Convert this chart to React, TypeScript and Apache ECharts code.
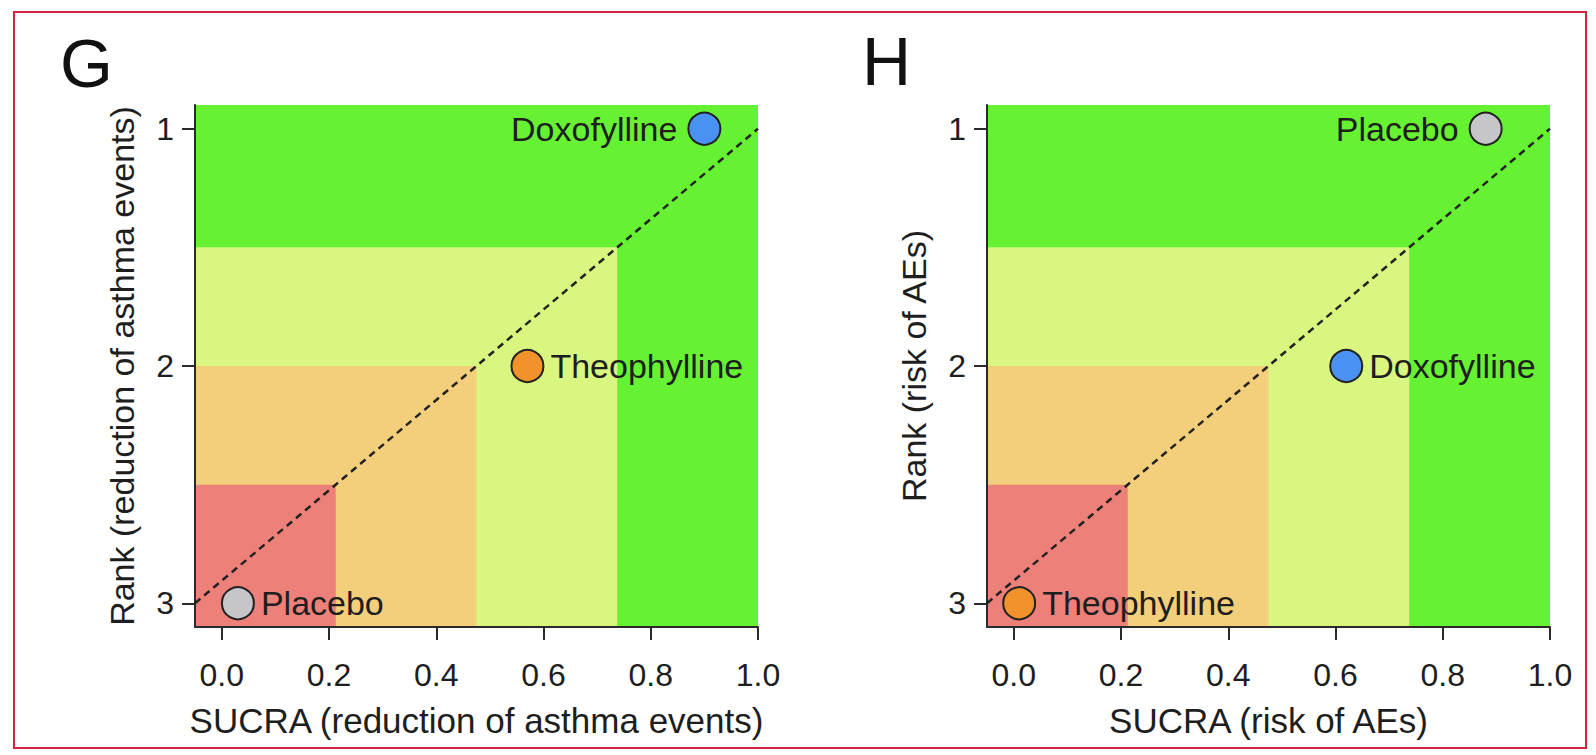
import React, { useEffect, useRef } from "react";
import * as echarts from "echarts";

// ---- data ----
const xTicks = [0, 0.2, 0.4, 0.6, 0.8, 1.0];
const yTicks = [1, 2, 3];
const xRange = [-0.05, 1.0];
const yRange = [0.9, 3.1];
// zone edges (x: right edge of red/orange/yellow zone; y: upper rank edge)
const zoneXBreaks = [0.2125, 0.475, 0.7375];
const zoneYBreaks = [2.5, 2.0, 1.5];
const zoneColors = ["#EE807A", "#F3CF7B", "#D8F680", "#66F233"];
const diagonal = [
  [-0.05, 3],
  [1.0, 1],
];

const treatmentsG = ["Doxofylline", "Theophylline", "Placebo"];
const sucraG = [0.9, 0.57, 0.03];
const rankG = [1, 2, 3];
const labelSideG = ["left", "right", "right"];

const treatmentsH = ["Placebo", "Doxofylline", "Theophylline"];
const sucraH = [0.88, 0.62, 0.01];
const rankH = [1, 2, 3];
const labelSideH = ["left", "right", "right"];

const treatmentColors: Record<string, string> = {
  Doxofylline: "#4A92F2",
  Theophylline: "#F2922A",
  Placebo: "#C6C6CA",
};

const panelLetters = ["G", "H"];
const xTitles = ["SUCRA (reduction of asthma events)", "SUCRA (risk of AEs)"];
const yTitles = ["Rank (reduction of asthma events)", "Rank (risk of AEs)"];

// ---- styling ----
const FONT = "'Liberation Sans', Arial, Helvetica, sans-serif";
const TEXT = "#1e1e1e";
const AXIS = "#2a2a2a";

function buildZones() {
  const [x0, x1] = xRange;
  const [, y1] = yRange;
  // nested rectangles drawn from largest (green) to smallest (red)
  return [
    [x0, yRange[0], x1, y1, 3],
    [x0, zoneYBreaks[2], zoneXBreaks[2], y1, 2],
    [x0, zoneYBreaks[1], zoneXBreaks[1], y1, 1],
    [x0, zoneYBreaks[0], zoneXBreaks[0], y1, 0],
  ];
}

function axesFor(idx: number) {
  const xAxis = {
    type: "value",
    gridIndex: idx,
    min: xRange[0],
    max: xRange[1],
    name: xTitles[idx],
    nameLocation: "middle",
    nameGap: 76,
    nameTextStyle: { fontFamily: FONT, fontSize: 35, color: TEXT, verticalAlign: "top" },
    splitLine: { show: false },
    axisLine: { show: true, onZero: false, lineStyle: { color: AXIS, width: 2 } },
    axisTick: {
      show: true,
      customValues: xTicks,
      length: 13,
      inside: false,
      lineStyle: { color: AXIS, width: 2 },
    },
    axisLabel: {
      customValues: xTicks,
      margin: 32,
      fontFamily: FONT,
      fontSize: 32,
      color: TEXT,
      formatter: (v: number) => v.toFixed(1),
    },
  };
  const yAxis = {
    type: "value",
    gridIndex: idx,
    inverse: true,
    min: yRange[0],
    max: yRange[1],
    name: yTitles[idx],
    nameLocation: "middle",
    nameGap: 56,
    nameRotate: 90,
    nameTextStyle: { fontFamily: FONT, fontSize: 34, color: TEXT },
    splitLine: { show: false },
    axisLine: { show: true, onZero: false, lineStyle: { color: AXIS, width: 2 } },
    axisTick: {
      show: true,
      customValues: yTicks,
      length: 13,
      lineStyle: { color: AXIS, width: 2 },
    },
    axisLabel: {
      customValues: yTicks,
      margin: 21,
      fontFamily: FONT,
      fontSize: 32,
      color: TEXT,
      formatter: (v: number) => String(Math.round(v)),
    },
  };
  return { xAxis, yAxis };
}

function seriesFor(idx: number, names: string[], sucra: number[], rank: number[], sides: string[]) {
  const zones = {
    type: "custom",
    xAxisIndex: idx,
    yAxisIndex: idx,
    z: 0,
    silent: true,
    data: buildZones(),
    encode: { x: [0, 2], y: [1, 3] },
    renderItem: (params: any, api: any) => {
      const p0 = api.coord([api.value(0), api.value(1)]);
      const p1 = api.coord([api.value(2), api.value(3)]);
      return {
        type: "rect",
        shape: {
          x: Math.min(p0[0], p1[0]),
          y: Math.min(p0[1], p1[1]),
          width: Math.abs(p1[0] - p0[0]),
          height: Math.abs(p1[1] - p0[1]),
        },
        style: { fill: zoneColors[api.value(4)] },
      };
    },
  };
  const diag = {
    type: "line",
    xAxisIndex: idx,
    yAxisIndex: idx,
    z: 3,
    data: diagonal,
    symbol: "none",
    silent: true,
    lineStyle: { color: "#222", width: 2.5, type: [7, 5] },
  };
  const points = {
    type: "scatter",
    xAxisIndex: idx,
    yAxisIndex: idx,
    z: 5,
    symbolSize: 32,
    data: names.map((n, i) => ({
      name: n,
      value: [sucra[i], rank[i]],
      itemStyle: { color: treatmentColors[n], borderColor: "#222", borderWidth: 2, opacity: 1 },
      label: {
        show: true,
        position: sides[i],
        distance: sides[i] === "left" ? 10 : 6,
        formatter: n,
        fontFamily: FONT,
        fontSize: 34,
        color: TEXT,
      },
    })),
  };
  return [zones, diag, points];
}

export default function App() {
  const ref = useRef<HTMLDivElement>(null);
  useEffect(() => {
    if (!ref.current) return;
    const chart = echarts.init(ref.current, undefined, { renderer: "svg" });
    const a0 = axesFor(0);
    const a1 = axesFor(1);
    chart.setOption({
      animation: false,
      backgroundColor: "#ffffff",
      grid: [
        { left: 195, top: 105, width: 563, height: 522 },
        { left: 987, top: 105, width: 563, height: 522 },
      ],
      xAxis: [a0.xAxis, a1.xAxis],
      yAxis: [a0.yAxis, a1.yAxis],
      series: [
        ...seriesFor(0, treatmentsG, sucraG, rankG, labelSideG),
        ...seriesFor(1, treatmentsH, sucraH, rankH, labelSideH),
      ],
      graphic: [
        {
          type: "rect",
          shape: { x: 14, y: 12, width: 1572, height: 736 },
          style: { fill: "none", stroke: "#CF2340", lineWidth: 2 },
          z: 10,
        },
        {
          type: "text",
          x: 60,
          y: 63,
          style: {
            text: panelLetters[0],
            fontFamily: FONT,
            fontSize: 68,
            fill: "#111",
            textAlign: "left",
            textVerticalAlign: "middle",
          },
        },
        {
          type: "text",
          x: 862,
          y: 61,
          style: {
            text: panelLetters[1],
            fontFamily: FONT,
            fontSize: 68,
            fill: "#111",
            textAlign: "left",
            textVerticalAlign: "middle",
          },
        },
      ],
    });
    return () => chart.dispose();
  }, []);
  return (
    <div
      ref={ref}
      style={{ position: "fixed", left: 0, top: 0, width: 1596, height: 755, background: "#fff" }}
    />
  );
}
